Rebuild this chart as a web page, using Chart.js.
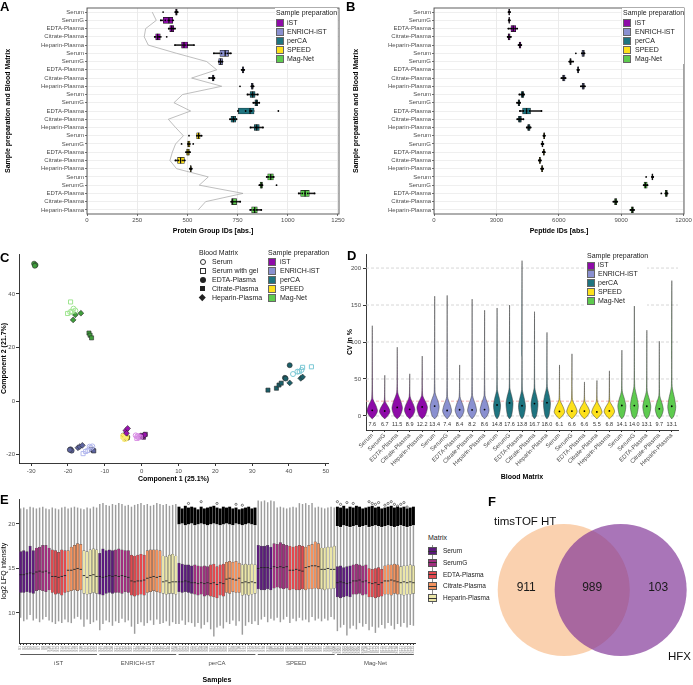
<!DOCTYPE html>
<html>
<head>
<meta charset="utf-8">
<title>Plasma sample preparation benchmark</title>
<script src="https://cdn.jsdelivr.net/npm/chart.js@4.4.1/dist/chart.umd.min.js"></script>
<style>
  body { margin: 0; background: #fff; }
  #fig { position: relative; width: 693px; height: 685px; overflow: hidden; background: #fff;
         font-family: "Liberation Sans", Arial, Helvetica, sans-serif; color: #1a1a1a; }
  #fig canvas { position: absolute; }
  .tag { position: absolute; font-size: 13px; font-weight: bold; line-height: 13px; color: #000; }
</style>
</head>
<body>
<div id="fig">
  <canvas id="chartA" width="352" height="240" style="left:0px;top:0px"></canvas>
  <canvas id="chartB" width="348" height="240" style="left:345px;top:0px"></canvas>
  <canvas id="chartC" width="345" height="245" style="left:0px;top:245px"></canvas>
  <canvas id="chartD" width="348" height="240" style="left:345px;top:245px"></canvas>
  <canvas id="chartE" width="425" height="195" style="left:0px;top:490px"></canvas>
  <canvas id="chartF" width="213" height="185" style="left:480px;top:500px"></canvas>
  <div class="tag" style="left:0px;top:0px">A</div>
  <div class="tag" style="left:346px;top:0px">B</div>
  <div class="tag" style="left:0px;top:251px">C</div>
  <div class="tag" style="left:347px;top:249px">D</div>
  <div class="tag" style="left:0px;top:493px">E</div>
  <div class="tag" style="left:488px;top:495px">F</div>
</div>
<script>
// ---- categories ----
const preps = ['iST', 'ENRICH-iST', 'perCA', 'SPEED', 'Mag-Net'];
const prepColors = ['#8e0ba8', '#8a90d0', '#1e7480', '#fde11c', '#5ecb4f'];
const matrices = ['Serum', 'SerumG', 'EDTA-Plasma', 'Citrate-Plasma', 'Heparin-Plasma'];
const rowLabels = preps.flatMap(() => matrices);

// ---- A: protein group IDs (rows: prep x matrix) ----
const pgTicks = [0, 250, 500, 750, 1000, 1250];
const pgLow  = [438, 365, 405, 335, 438, 630, 654, 770, 608, 818, 797, 828, 752, 712, 812, 546, 501, 493, 440, 512, 895, 858, 1052, 718, 812];
const pgQ1   = [441, 380, 412, 342, 471, 662, 656, 773, 624, 818, 812, 836, 754, 717, 833, 546, 501, 496, 451, 514, 900, 862, 1064, 720, 820];
const pgMed  = [446, 408, 422, 352, 483, 688, 665, 777, 629, 823, 825, 843, 812, 729, 845, 555, 507, 503, 466, 517, 915, 868, 1086, 725, 835];
const pgQ3   = [449, 427, 432, 365, 501, 705, 675, 781, 633, 828, 837, 850, 832, 741, 858, 563, 513, 510, 485, 519, 928, 874, 1107, 745, 848];
const pgHigh = [452, 432, 440, 370, 533, 718, 675, 783, 635, 830, 852, 858, 832, 745, 878, 571, 512, 513, 487, 522, 930, 874, 1135, 765, 870];
const pgPoints = [
  [379, 440, 444, 447, 452], [368, 390, 405, 412, 425], [407, 418, 424, 430, 438], [338, 350, 358, 362, 397], [438, 478, 488, 500, 533],
  [632, 670, 690, 700, 716], [656, 660, 668, 672, 675], [770, 775, 778, 780, 783], [608, 625, 628, 632, 635], [762, 818, 822, 826, 830],
  [800, 818, 825, 832, 850], [828, 838, 843, 848, 858], [752, 790, 812, 820, 953], [712, 722, 729, 735, 745], [815, 838, 845, 852, 876],
  [508, 548, 555, 560, 571], [471, 503, 507, 512, 529], [493, 500, 505, 510, 513], [440, 455, 466, 478, 487], [512, 515, 517, 519, 522],
  [895, 905, 915, 922, 930], [858, 864, 868, 874, 944], [1055, 1072, 1086, 1100, 1133], [718, 724, 732, 742, 763], [813, 828, 835, 845, 868]
];
const pgLine = [325, 345, 292, 285, 305, 446, 596, 646, 521, 671, 476, 433, 516, 405, 441, 480, 441, 425, 413, 446, 604, 559, 777, 591, 554];

// ---- B: peptide IDs ----
const pepTicks = [0, 3000, 6000, 9000, 12000];
const pepLow  = [3580, 3590, 3570, 3540, 4060, 7100, 6500, 6890, 6120, 7060, 4100, 3990, 4130, 4000, 4460, 5260, 5170, 5230, 5040, 5150, 10480, 10080, 11120, 8620, 9440];
const pepQ1   = [3600, 3605, 3700, 3560, 4090, 7110, 6530, 6900, 6180, 7120, 4190, 4040, 4260, 4060, 4500, 5270, 5190, 5250, 5060, 5170, 10480, 10100, 11120, 8680, 9480];
const pepMed  = [3615, 3615, 3810, 3600, 4130, 7170, 6560, 6930, 6240, 7170, 4260, 4080, 4450, 4130, 4560, 5300, 5215, 5280, 5090, 5200, 10500, 10170, 11170, 8740, 9540];
const pepQ3   = [3630, 3625, 3930, 3660, 4180, 7230, 6600, 6960, 6300, 7230, 4320, 4120, 4640, 4200, 4620, 5320, 5240, 5310, 5120, 5230, 10530, 10250, 11220, 8790, 9590];
const pepHigh = [3660, 3650, 4000, 3700, 4200, 7240, 6690, 6970, 6330, 7260, 4330, 4140, 5170, 4300, 4650, 5330, 5260, 5330, 5140, 5250, 10540, 10270, 11230, 8810, 9620];
const pepPoints = [
  [3580, 3600, 3615, 3630, 3660], [3590, 3605, 3615, 3625, 3650], [3570, 3720, 3810, 3900, 4000], [3540, 3570, 3600, 3650, 3700], [4060, 4100, 4130, 4170, 4200],
  [6820, 7110, 7160, 7200, 7240], [6500, 6540, 6560, 6600, 6690], [6890, 6910, 6930, 6950, 6970], [6120, 6200, 6240, 6280, 6330], [7060, 7130, 7170, 7210, 7260],
  [4100, 4200, 4260, 4300, 4330], [3990, 4050, 4080, 4110, 4140], [4130, 4300, 4450, 4600, 5170], [4000, 4080, 4130, 4180, 4300], [4460, 4520, 4560, 4600, 4650],
  [5260, 5280, 5300, 5310, 5330], [5170, 5200, 5215, 5230, 5260], [5230, 5260, 5280, 5300, 5330], [5040, 5070, 5090, 5110, 5140], [5150, 5180, 5200, 5220, 5250],
  [10200, 10480, 10500, 10520, 10540], [10080, 10130, 10170, 10230, 10270], [10930, 11120, 11160, 11190, 11230], [8620, 8700, 8740, 8770, 8810], [9440, 9500, 9540, 9570, 9620]
];

// ---- C: PCA ----
const pcaMatrices = ['Serum', 'Serum with gel', 'EDTA-Plasma', 'Citrate-Plasma', 'Heparin-Plasma'];
const pcaXTicks = [-30, -20, -10, 0, 10, 20, 30, 40, 50];
const pcaYTicks = [-20, 0, 20, 40];
const pcaPrep = [
  'iST', 'iST', 'iST', 'iST', 'iST', 'iST', 'iST', 'iST', 'iST', 'iST', 'iST', 'iST', 'iST', 'iST', 'iST',
  'SPEED', 'SPEED', 'SPEED', 'SPEED', 'SPEED', 'SPEED', 'SPEED', 'SPEED', 'SPEED', 'SPEED', 'SPEED', 'SPEED', 'SPEED', 'SPEED', 'SPEED',
  'ENRICH-iST', 'ENRICH-iST', 'ENRICH-iST', 'ENRICH-iST', 'ENRICH-iST', 'ENRICH-iST', 'ENRICH-iST', 'ENRICH-iST', 'ENRICH-iST', 'ENRICH-iST', 'ENRICH-iST', 'ENRICH-iST', 'ENRICH-iST', 'ENRICH-iST', 'ENRICH-iST',
  'perCA', 'perCA', 'perCA', 'perCA', 'perCA', 'perCA', 'perCA', 'perCA', 'perCA', 'perCA', 'perCA', 'perCA', 'perCA', 'perCA', 'perCA', 'perCA',
  'Mag-Net', 'Mag-Net', 'Mag-Net', 'Mag-Net', 'Mag-Net', 'Mag-Net', 'Mag-Net', 'Mag-Net', 'Mag-Net', 'Mag-Net', 'Mag-Net', 'Mag-Net', 'Mag-Net', 'Mag-Net', 'Mag-Net'
];
const pcaMatrix = [
  0, 0, 0, 1, 1, 1, 2, 2, 2, 3, 3, 3, 4, 4, 4,
  0, 0, 0, 1, 1, 1, 2, 2, 2, 3, 3, 3, 4, 4, 4,
  0, 0, 0, 1, 1, 1, 2, 2, 2, 3, 3, 3, 4, 4, 4,
  0, 0, 0, 1, 1, 1, 2, 2, 2, 3, 3, 3, 3, 4, 4, 4,
  0, 0, 0, 1, 1, 1, 2, 2, 2, 3, 3, 3, 4, 4, 4
];
const pcaX = [
  -1.2, -0.8, -1.6, -1.0, -0.4, -1.3, 0.2, 0.8, -0.2, 0.5, 1.0, 0.0, -4.3, -3.8, -4.1,
  -4.8, -4.4, -5.0, -4.2, -5.1, -4.6, -4.6, -4.0, -4.9, -4.3, -4.8, -3.9, -4.5, -3.9, -4.7,
  -14.1, -13.4, -13.8, -15.9, -15.2, -14.6, -19.3, -19.0, -19.5, -13.2, -13.6, -13.0, -17.3, -16.8, -16.1,
  41.1, 42.3, 43.4, 43.7, 46.1, 42.8, 40.2, 38.9, 39.1, 34.3, 36.6, 37.3, 37.9, 40.2, 43.2, 43.7,
  -18.5, -19.4, -18.0, -19.3, -20.1, -18.9, -29.2, -28.8, -29.0, -14.3, -14.0, -13.6, -18.0, -16.5, -18.6
];
const pcaY = [
  -13.2, -13.6, -12.8, -13.0, -13.5, -13.9, -13.2, -12.6, -12.9, -13.5, -12.4, -13.1, -11.0, -10.2, -12.0,
  -13.6, -14.0, -13.0, -13.0, -13.3, -14.2, -13.5, -13.8, -12.8, -13.2, -12.9, -13.6, -12.6, -13.4, -14.0,
  -17.0, -16.9, -17.4, -19.6, -18.8, -18.4, -18.0, -18.5, -18.2, -18.3, -18.0, -18.6, -17.4, -17.0, -16.5,
  10.1, 11.0, 11.6, 12.6, 12.8, 11.0, 13.4, 8.7, 8.4, 4.1, 4.8, 6.0, 6.7, 6.8, 8.5, 9.0,
  34.5, 33.2, 33.8, 37.0, 32.7, 33.5, 51.3, 50.8, 50.5, 25.4, 24.6, 23.6, 32.2, 32.8, 30.3
];

// ---- D: CV violins (one per prep x matrix) ----
const cvTicks = [0, 50, 100, 150, 200];
const cvThreshold = 20;
const cvMedian = [7.6, 6.7, 11.5, 8.9, 12.2, 13.4, 7.4, 8.4, 8.2, 8.6, 14.8, 17.6, 13.8, 16.7, 18.0, 6.1, 6.6, 6.6, 5.5, 6.8, 14.1, 14.0, 13.1, 9.7, 13.1];
const cvMax    = [122, 55, 93, 57, 81, 162, 163, 69, 158, 143, 146, 150, 210, 141, 113, 69, 84, 46, 48, 61, 89, 173, 116, 101, 183];
const cvNeck   = [24, 20, 32, 26, 28, 32, 26, 26, 28, 28, 36, 38, 36, 38, 40, 22, 22, 20, 20, 20, 34, 40, 34, 28, 40];

// ---- E: log2 LFQ intensity per sample (5 preps x 5 matrices x 5 replicates) ----
const lfqTicks = [10, 15, 20];
const eMatColors = ['#5c1a7d', '#a02f7e', '#e3494f', '#f3935f', '#ebe6a9'];
const eQ3 = [
  16.9, 17.0, 16.9, 17.5, 17.0, 17.3, 17.4, 17.6, 17.6, 17.3, 17.1, 17.0, 16.8, 17.1, 17.0, 17.0, 17.4, 17.6, 17.8, 17.7, 17.0, 16.9, 17.1, 17.2, 17.1,
  16.7, 17.2, 17.0, 17.1, 17.0, 17.1, 17.2, 17.1, 17.0, 17.0, 16.5, 16.4, 16.5, 16.6, 16.5, 17.0, 17.1, 17.1, 17.1, 17.0, 16.4, 16.3, 16.5, 16.6, 16.4,
  15.6, 15.5, 15.4, 15.4, 15.3, 15.4, 15.3, 15.2, 15.3, 15.2, 15.4, 15.5, 15.2, 15.4, 15.5, 15.7, 15.8, 15.7, 15.8, 15.6, 15.4, 15.5, 15.4, 15.5, 15.4,
  17.6, 17.5, 17.5, 17.6, 17.4, 17.8, 17.7, 17.9, 17.7, 17.6, 17.5, 17.4, 17.5, 17.6, 17.5, 17.4, 17.6, 17.7, 18.0, 17.8, 17.3, 17.3, 17.4, 17.4, 17.5,
  15.2, 15.3, 15.1, 15.2, 15.3, 15.4, 15.5, 15.4, 15.3, 15.4, 15.0, 14.9, 15.0, 15.1, 14.9, 15.3, 15.4, 15.4, 15.5, 15.4, 15.2, 15.3, 15.3, 15.4, 15.3
];
const eQ1 = [
  12.3, 12.3, 12.4, 12.3, 12.2, 12.5, 12.6, 12.5, 12.4, 12.6, 12.3, 12.1, 12.2, 12.0, 12.3, 12.4, 12.5, 12.6, 12.5, 12.6, 12.2, 12.1, 12.2, 12.3, 12.2,
  12.1, 12.0, 12.2, 12.3, 12.2, 12.3, 12.3, 12.2, 12.4, 12.3, 12.0, 11.9, 12.0, 12.1, 12.0, 12.3, 12.4, 12.5, 12.4, 12.3, 12.2, 12.1, 12.2, 12.2, 12.1,
  12.4, 12.3, 12.4, 12.3, 12.2, 12.1, 12.0, 12.1, 11.9, 12.0, 11.9, 11.8, 11.7, 12.0, 11.9, 12.3, 12.2, 12.4, 12.3, 12.3, 12.0, 12.1, 12.0, 12.1, 12.2,
  12.7, 12.6, 12.6, 12.7, 12.6, 12.8, 12.9, 12.8, 12.7, 12.8, 12.6, 12.7, 12.6, 12.6, 12.7, 12.6, 12.7, 12.7, 12.8, 12.7, 12.7, 12.6, 12.7, 12.7, 12.8,
  11.8, 11.7, 11.8, 11.9, 11.8, 12.1, 12.1, 12.2, 12.0, 12.1, 11.8, 11.8, 11.7, 11.8, 11.9, 12.1, 12.1, 12.0, 12.2, 12.1, 12.1, 12.0, 12.1, 12.1, 12.2
];
const eMed = [
  14.3, 14.3, 14.4, 14.5, 14.4, 14.6, 14.7, 14.6, 14.7, 14.5, 14.1, 14.1, 14.0, 14.1, 14.2, 14.8, 14.8, 14.9, 15.0, 14.9, 14.2, 14.0, 14.2, 14.3, 14.1,
  14.1, 14.0, 14.1, 14.2, 14.1, 14.2, 14.1, 14.2, 14.1, 14.0, 13.6, 13.5, 13.6, 13.6, 13.7, 13.9, 14.0, 14.1, 14.0, 14.1, 13.5, 13.6, 13.4, 13.5, 13.5,
  13.5, 13.5, 13.6, 13.5, 13.4, 13.4, 13.3, 13.4, 13.3, 13.4, 13.3, 13.4, 13.2, 13.4, 13.3, 13.8, 13.9, 13.8, 13.7, 13.9, 13.4, 13.5, 13.4, 13.5, 13.4,
  15.0, 15.1, 15.1, 15.1, 15.0, 15.2, 15.1, 15.2, 15.1, 15.2, 14.8, 14.8, 14.9, 14.8, 14.7, 15.1, 15.2, 15.3, 15.3, 15.2, 14.9, 14.9, 15.0, 14.9, 14.9,
  13.4, 13.5, 13.4, 13.3, 13.4, 13.6, 13.6, 13.7, 13.5, 13.6, 13.4, 13.3, 13.4, 13.2, 13.4, 13.6, 13.6, 13.7, 13.6, 13.5, 13.4, 13.5, 13.4, 13.5, 13.4
];
const eLo = [
  9.5, 9.1, 9.3, 9.8, 9.2, 9.4, 9.0, 9.3, 9.6, 9.2, 9.0, 8.8, 9.1, 8.9, 9.3, 9.0, 8.9, 9.4, 9.6, 9.3, 8.5, 9.3, 8.8, 9.0, 9.2,
  8.1, 8.8, 9.2, 9.0, 8.6, 9.1, 8.9, 9.4, 9.0, 9.2, 8.5, 7.7, 8.8, 9.0, 8.6, 8.9, 9.2, 8.7, 9.3, 8.8, 8.9, 9.1, 8.6, 9.0, 8.8,
  8.8, 9.2, 8.7, 9.0, 8.9, 8.5, 8.9, 8.3, 8.7, 9.0, 8.2, 7.4, 8.4, 8.6, 8.3, 9.0, 8.8, 9.2, 8.6, 9.1, 7.6, 8.6, 9.0, 8.8, 9.1,
  8.7, 9.3, 9.6, 9.0, 9.4, 9.2, 9.5, 9.0, 9.3, 9.6, 8.9, 9.4, 9.1, 9.5, 9.2, 9.3, 9.0, 9.6, 9.2, 9.4, 9.1, 9.4, 9.2, 9.6, 9.3,
  8.0, 8.4, 8.7, 7.5, 8.3, 8.6, 8.2, 8.9, 8.5, 8.8, 8.1, 8.5, 7.8, 8.4, 8.7, 8.3, 8.9, 8.6, 8.2, 8.8, 8.5, 8.9, 8.4, 8.7, 8.6
];
const eHi = [
  21.7, 21.8, 21.6, 21.9, 21.8, 21.7, 21.8, 21.9, 21.7, 21.6, 21.8, 21.7, 21.6, 21.8, 21.9, 21.7, 21.8, 21.9, 21.8, 21.7, 21.6, 21.8, 21.7, 21.9, 21.8,
  22.2, 22.3, 22.1, 22.0, 22.2, 22.1, 22.3, 22.2, 22.0, 22.1, 21.9, 22.1, 22.2, 22.3, 22.1, 22.2, 22.0, 22.1, 22.3, 22.2, 22.1, 22.2, 22.0, 22.1, 22.2,
  19.9, 20.0, 19.8, 19.9, 20.0, 19.8, 19.9, 20.0, 19.9, 19.8, 19.9, 20.0, 19.9, 19.8, 19.9, 20.0, 19.9, 19.8, 20.0, 19.9, 19.8, 19.9, 20.0, 19.9, 19.8,
  22.6, 22.5, 22.6, 22.4, 22.6, 22.5, 21.8, 21.9, 21.8, 21.7, 21.8, 21.9, 21.8, 22.3, 22.2, 22.3, 22.1, 22.3, 21.8, 21.9, 21.8, 21.7, 21.8, 21.9, 21.8,
  19.7, 19.6, 19.8, 19.7, 19.6, 19.7, 19.8, 19.6, 19.7, 19.8, 19.6, 19.7, 19.8, 19.7, 19.6, 19.7, 19.8, 19.7, 19.6, 19.7, 19.8, 19.7, 19.6, 19.7, 19.8
];
// dense outlier stacks (perCA, Mag-Net only)
const eOutLo = [
  ...Array(50).fill(null),
  20.0, 20.1, 19.9, 20.0, 20.1, 19.9, 20.0, 20.1, 20.0, 19.9, 20.0, 20.1, 20.0, 19.9, 20.0, 20.1, 20.0, 19.9, 20.1, 20.0, 19.9, 20.0, 20.1, 20.0, 19.9,
  ...Array(25).fill(null),
  19.8, 19.7, 19.9, 19.8, 19.7, 19.8, 19.9, 19.7, 19.8, 19.9, 19.7, 19.8, 19.9, 19.8, 19.7, 19.8, 19.9, 19.8, 19.7, 19.8, 19.9, 19.8, 19.7, 19.8, 19.9
];
const eOutHi = [
  ...Array(50).fill(null),
  21.9, 21.7, 22.0, 21.8, 21.9, 21.8, 21.6, 21.9, 21.7, 21.8, 21.9, 22.0, 21.8, 21.7, 21.9, 21.8, 21.9, 21.7, 21.8, 21.6, 21.7, 21.8, 21.9, 21.7, 21.8,
  ...Array(25).fill(null),
  21.9, 21.8, 22.0, 21.7, 21.9, 21.8, 22.0, 21.9, 21.7, 21.8, 21.9, 22.0, 21.8, 21.9, 21.7, 21.8, 21.9, 22.0, 21.8, 21.9, 21.8, 21.9, 21.7, 21.8, 21.9
];
const eCircleIdx = [53, 57, 62, 68, 70, 100, 101, 103, 105, 110, 111, 112, 113, 115, 116, 117, 118, 119, 120, 121, 122];
const eCircleVal = [22.3, 22.5, 22.3, 22.2, 22.1, 22.5, 22.2, 22.4, 22.3, 22.5, 22.3, 22.2, 22.4, 22.1, 22.3, 22.5, 22.2, 22.0, 22.2, 22.4, 21.9];
const eSamples = eQ3.map((_, i) => 'S' + (i + 1));

// ---- F: Venn ----
const vennSets = ['timsTOF HT', 'HFX'];
const vennCounts = [911, 989, 103];

// ---------- setup ----------
Chart.defaults.font.family = '"Liberation Sans", Arial, Helvetica, sans-serif';
Chart.defaults.font.size = 6;
Chart.defaults.color = '#4d4d4d';
Chart.defaults.animation = false;
Chart.defaults.responsive = false;
Chart.defaults.events = [];
Chart.defaults.layout.autoPadding = false;
Chart.defaults.plugins.legend.display = false;
Chart.defaults.plugins.tooltip.enabled = false;

Chart.register({
  id: 'frame',
  afterDraw(chart, args, o) {
    if (!o || !o.color) return;
    const { ctx, chartArea: a } = chart;
    ctx.save();
    ctx.strokeStyle = o.color;
    ctx.lineWidth = 0.9;
    ctx.strokeRect(a.left, a.top, a.width, a.height);
    ctx.restore();
  }
});

const fixedTicks = vals => scale => { scale.ticks = vals.map(v => ({ value: v })); };
const titleFont = { size: 7, weight: 'bold' };
// bars overlap (not grouped); width = min(maxBarThickness, slot)
const overlapBar = { grouped: false, categoryPercentage: 1, barPercentage: 1 };

// horizontal boxplots, panels A and B
function rowBoxChart(id, s, opt) {
  const rowColors = rowLabels.map((_, i) => prepColors[Math.floor(i / 5)]);
  const datasets = [];
  if (s.trend) {
    datasets.push({ type: 'scatter', showLine: true, data: s.trend.map((v, i) => ({ x: v, y: i })),
      borderColor: '#a3a3a3', borderWidth: 0.7, pointRadius: 0, order: 5 });
  }
  datasets.push(Object.assign({ type: 'bar', data: s.low.map((v, i) => ({ x: [v, s.high[i]], y: i })),
    backgroundColor: '#1a1a1a', maxBarThickness: 0.9, order: 4 }, overlapBar));
  datasets.push(Object.assign({ type: 'bar', data: s.q1.map((v, i) => ({ x: [v, s.q3[i]], y: i })),
    backgroundColor: rowColors, borderColor: '#1a1a1a', borderWidth: 0.6, borderSkipped: false,
    maxBarThickness: 6, order: 3 }, overlapBar));
  datasets.push({ type: 'scatter', data: s.med.map((v, i) => ({ x: v, y: i })),
    pointStyle: 'line', rotation: 90, pointRadius: 3, borderColor: '#111', borderWidth: 1.2, order: 2 });
  datasets.push({ type: 'scatter', data: s.points.flatMap((r, i) => r.map(v => ({ x: v, y: i }))),
    pointRadius: 0.9, backgroundColor: '#000', borderWidth: 0, order: 1 });

  return new Chart(document.getElementById(id), {
    type: 'bar',
    data: { datasets },
    options: {
      indexAxis: 'y',
      layout: { padding: { left: 0, top: 8, right: opt.padRight, bottom: 0 } },
      plugins: { frame: { color: '#4d4d4d' } },
      scales: {
        x: {
          type: 'linear', min: 0, max: opt.max, offset: false,
          afterBuildTicks: fixedTicks(opt.ticks),
          afterFit: sc => { sc.height = 26; },
          ticks: { callback: v => String(v), padding: 1, maxRotation: 0 },
          grid: { color: '#e6e6e6', lineWidth: 0.8, tickLength: 2, tickColor: '#4d4d4d', offset: false },
          border: { display: false },
          title: { display: true, text: opt.title, color: '#000', font: titleFont, padding: { top: 0, bottom: 4.8 } }
        },
        y: {
          type: 'linear', min: -0.5, max: 24.5, reverse: true, offset: false,
          afterBuildTicks: fixedTicks(rowLabels.map((_, i) => i)),
          afterFit: sc => { sc.width = opt.yWidth; },
          ticks: { callback: v => rowLabels[v], padding: 1, autoSkip: false },
          grid: { color: '#ebebeb', lineWidth: 0.8, tickLength: 2, tickColor: '#4d4d4d', offset: false },
          border: { display: false },
          title: { display: true, text: 'Sample preparation and Blood Matrix', color: '#000', font: titleFont,
                   padding: { top: opt.yTitlePad, bottom: 0 } }
        }
      }
    }
  });
}

rowBoxChart('chartA', { low: pgLow, q1: pgQ1, med: pgMed, q3: pgQ3, high: pgHigh, points: pgPoints, trend: pgLine },
  { max: 1255, ticks: pgTicks, title: 'Protein Group IDs [abs.]', padRight: 13, yWidth: 87, yTitlePad: 3.8 });
rowBoxChart('chartB', { low: pepLow, q1: pepQ1, med: pepMed, q3: pepQ3, high: pepHigh, points: pepPoints },
  { max: 12020, ticks: pepTicks, title: 'Peptide IDs [abs.]', padRight: 9, yWidth: 89, yTitlePad: 6.5 });

// ---------- C: PCA ----------
const pcaLight = ['#d88de4', '#b4b9ee', '#7cc8d5', '#fff07c', '#9fe590'];
const pcaDark = ['#9a12b0', '#5d649f', '#1b5f69', '#f2d400', '#3f9e3b'];
const pcaShapes = ['circle', 'rect', 'circle', 'rect', 'rectRot'];
const pcaSets = [];
preps.forEach((p, g) => pcaMatrices.forEach((m, k) => {
  const data = [];
  pcaX.forEach((x, i) => { if (pcaPrep[i] === p && pcaMatrix[i] === k) data.push({ x, y: pcaY[i] }); });
  const open = k < 2;
  pcaSets.push({
    data, pointStyle: pcaShapes[k], pointRadius: pcaShapes[k] === 'circle' ? 2.5 : 2.9,
    backgroundColor: open ? 'rgba(255,255,255,0)' : pcaDark[g],
    borderColor: open ? pcaLight[g] : '#2b2b2b', borderWidth: open ? 1 : 0.6
  });
}));

const axisCommon = {
  grid: { drawOnChartArea: false, tickLength: 3, color: '#333' },
  border: { display: true, color: '#222', width: 0.9 }
};

new Chart(document.getElementById('chartC'), {
  type: 'scatter',
  data: { datasets: pcaSets },
  options: {
    layout: { padding: { left: 0, top: 9, right: 17, bottom: 0 } },
    scales: {
      x: Object.assign({
        min: -33.3, max: 50.6,
        afterBuildTicks: fixedTicks(pcaXTicks), afterFit: sc => { sc.height = 27; },
        ticks: { callback: v => String(v), padding: 2, maxRotation: 0 },
        title: { display: true, text: 'Component 1 (25.1%)', color: '#000', font: titleFont, padding: { top: 0, bottom: 6.8 } }
      }, axisCommon),
      y: Object.assign({
        min: -23.1, max: 54.9,
        afterBuildTicks: fixedTicks(pcaYTicks), afterFit: sc => { sc.width = 19; },
        ticks: { callback: v => String(v), padding: 1 },
        title: { display: true, text: 'Component 2 (21.7%)', color: '#000', font: titleFont, padding: { top: 0.3, bottom: 0 } }
      }, axisCommon)
    }
  }
});

// ---------- D: violins ----------
const violinWidth = [0.42, 0.36, 0.28, 0.42, 0.32];
function violinOutline(i) {
  const m = cvMedian[i], n = cvNeck[i], top = cvMax[i], w = violinWidth[Math.floor(i / 5)];
  const prof = [[-4, 0], [0, 0.55], [m * 0.6, 0.92], [m, 1], [m + (n - m) * 0.4, 0.7],
                [m + (n - m) * 0.75, 0.3], [n, 0.1], [n + (top - n) * 0.25, 0.035], [top, 0.012]];
  const right = prof.map(([y, f]) => ({ x: i + w * f, y }));
  const left = prof.slice().reverse().map(([y, f]) => ({ x: i - w * f, y }));
  return right.concat(left.slice(1));
}
const violinSets = cvMedian.map((m, i) => ({
  type: 'scatter', showLine: true, fill: 'shape', tension: 0.25, data: violinOutline(i),
  backgroundColor: prepColors[Math.floor(i / 5)], borderColor: '#3d3d3d', borderWidth: 0.5, pointRadius: 0, order: 2
}));
violinSets.push({ type: 'scatter', data: cvMedian.map((m, i) => ({ x: i, y: m })),
  pointRadius: 0.9, backgroundColor: '#000', borderWidth: 0, order: 1 });

const cvLabelLevel = -11;
const cvDecor = {
  id: 'cvDecor',
  beforeDatasetsDraw(chart) {
    const { ctx, chartArea: a, scales: { y } } = chart;
    ctx.save();
    ctx.lineWidth = 0.8;
    ctx.setLineDash([3, 2]);
    cvTicks.forEach(v => {
      const py = y.getPixelForValue(v);
      ctx.strokeStyle = '#cccccc';
      ctx.beginPath(); ctx.moveTo(a.left, py); ctx.lineTo(a.right, py); ctx.stroke();
    });
    const pr = y.getPixelForValue(cvThreshold);
    ctx.strokeStyle = '#f29e9e';
    ctx.beginPath(); ctx.moveTo(a.left, pr); ctx.lineTo(a.right, pr); ctx.stroke();
    ctx.restore();
  },
  afterDatasetsDraw(chart) {
    const { ctx, scales: { x, y } } = chart;
    ctx.save();
    ctx.fillStyle = '#333';
    ctx.font = '5.5px "Liberation Sans", Arial, sans-serif';
    ctx.textAlign = 'center';
    ctx.textBaseline = 'middle';
    cvMedian.forEach((m, i) => ctx.fillText(m.toFixed(1), x.getPixelForValue(i), y.getPixelForValue(cvLabelLevel)));
    ctx.restore();
  }
};

new Chart(document.getElementById('chartD'), {
  type: 'scatter',
  data: { datasets: violinSets },
  options: {
    layout: { padding: { left: 0, top: 9, right: 15, bottom: 0 } },
    scales: {
      x: {
        min: -0.5, max: 24.5,
        afterBuildTicks: fixedTicks(rowLabels.map((_, i) => i)), afterFit: sc => { sc.height = 55; },
        ticks: { callback: v => rowLabels[v], autoSkip: false, minRotation: 45, maxRotation: 45, padding: 0 },
        grid: { drawOnChartArea: false, tickLength: 2, color: '#333' },
        border: { display: true, color: '#222', width: 0.9 },
        title: { display: true, text: 'Blood Matrix', color: '#000', font: titleFont, padding: { top: 0, bottom: 3.8 } }
      },
      y: {
        min: -19, max: 219,
        afterBuildTicks: fixedTicks(cvTicks), afterFit: sc => { sc.width = 21; },
        ticks: { callback: v => String(v), padding: 2 },
        grid: { drawOnChartArea: false, tickLength: 3, color: '#333' },
        border: { display: true, color: '#222', width: 0.9 },
        title: { display: true, text: 'CV in %', color: '#000', font: titleFont, padding: { top: 0.8, bottom: 0 } }
      }
    }
  },
  plugins: [cvDecor]
});

// ---------- E: intensity boxplots ----------
const eColors = eQ3.map((_, i) => eMatColors[Math.floor((i % 25) / 5)]);
const eOutData = [];
eOutLo.forEach((v, i) => { if (v !== null) eOutData.push({ x: i, y: [v, eOutHi[i]] }); });

const groupBrackets = {
  id: 'groupBrackets',
  afterDraw(chart) {
    const { ctx, chartArea, scales: { x } } = chart;
    const y = chartArea.bottom + 11.5;
    ctx.save();
    ctx.strokeStyle = '#333';
    ctx.lineWidth = 0.8;
    ctx.fillStyle = '#4d4d4d';
    ctx.font = '6px "Liberation Sans", Arial, sans-serif';
    ctx.textAlign = 'center';
    ctx.textBaseline = 'middle';
    preps.forEach((p, g) => {
      const x1 = x.getPixelForValue(g * 25 - 0.5) + 1.2;
      const x2 = x.getPixelForValue(g * 25 + 24.5) - 1.2;
      ctx.beginPath(); ctx.moveTo(x1, y); ctx.lineTo(x2, y); ctx.stroke();
      ctx.fillText(p, (x1 + x2) / 2, y + 9);
    });
    ctx.restore();
  }
};

new Chart(document.getElementById('chartE'), {
  type: 'bar',
  data: {
    datasets: [
      Object.assign({ type: 'bar', data: eLo.map((v, i) => ({ x: i, y: [v, eHi[i]] })), backgroundColor: '#9d9d9d',
        maxBarThickness: 0.8, order: 5 }, overlapBar),
      Object.assign({ type: 'bar', data: eOutData, backgroundColor: '#000', maxBarThickness: 2.3, order: 4 }, overlapBar),
      Object.assign({ type: 'bar', data: eQ1.map((v, i) => ({ x: i, y: [v, eQ3[i]] })), backgroundColor: eColors,
        borderColor: '#5a5a5a', borderWidth: 0.45, borderSkipped: false, maxBarThickness: 2.5, order: 3 }, overlapBar),
      { type: 'scatter', data: eMed.map((v, i) => ({ x: i, y: v })), pointStyle: 'line', pointRadius: 1.2,
        borderColor: '#222', borderWidth: 0.9, order: 2 },
      { type: 'scatter', data: eCircleIdx.map((x, k) => ({ x, y: eCircleVal[k] })), pointRadius: 1.1,
        backgroundColor: 'rgba(255,255,255,0)', borderColor: '#000', borderWidth: 0.5, order: 1 }
    ]
  },
  options: {
    layout: { padding: { left: 0, top: 9, right: 10, bottom: 0 } },
    scales: {
      x: {
        type: 'linear', min: -0.5, max: 124.5, offset: false,
        afterBuildTicks: fixedTicks(eSamples.map((_, i) => i)), afterFit: sc => { sc.height = 42; },
        ticks: { callback: v => eSamples[v], autoSkip: false, minRotation: 90, maxRotation: 90, padding: 1,
                 font: { size: 3.2 }, color: '#777' },
        grid: { drawOnChartArea: false, tickLength: 2, color: '#333', offset: false },
        border: { display: true, color: '#222', width: 0.9 },
        title: { display: true, text: 'Samples', color: '#000', font: titleFont, padding: { top: 0, bottom: 0.8 } }
      },
      y: {
        type: 'linear', min: 6.63, max: 22.8,
        afterBuildTicks: fixedTicks(lfqTicks), afterFit: sc => { sc.width = 19; },
        ticks: { callback: v => String(v), padding: 1 },
        grid: { drawOnChartArea: false, tickLength: 3, color: '#333' },
        border: { display: true, color: '#222', width: 0.9 },
        title: { display: true, text: 'log2 LFQ intensity', color: '#000', font: { size: 7 }, padding: { top: 0, bottom: 0 } }
      }
    }
  },
  plugins: [groupBrackets]
});

// ---------- F: Venn ----------
const vennRadius = 66;
const vennLabels = {
  id: 'vennLabels',
  afterDatasetsDraw(chart) {
    const { ctx, scales: { x, y } } = chart;
    const ppu = x.getPixelForValue(1) - x.getPixelForValue(0);
    const r = vennRadius / ppu;
    ctx.save();
    ctx.fillStyle = '#1a1a1a';
    ctx.font = '12px "Liberation Sans", Arial, sans-serif';
    ctx.textAlign = 'center';
    ctx.textBaseline = 'middle';
    [-r, 0, r].forEach((px, k) => ctx.fillText(String(vennCounts[k]), x.getPixelForValue(px), y.getPixelForValue(0) - 2));
    ctx.restore();
  }
};
new Chart(document.getElementById('chartF'), {
  type: 'bubble',
  data: {
    datasets: [
      { label: vennSets[0], data: [{ x: -0.5, y: 0, r: vennRadius }], backgroundColor: 'rgba(247,176,118,0.58)', borderWidth: 0, order: 2 },
      { label: vennSets[1], data: [{ x: 0.5, y: 0, r: vennRadius }], backgroundColor: 'rgba(128,52,150,0.68)', borderWidth: 0, order: 1 }
    ]
  },
  options: {
    layout: { padding: 0 },
    scales: {
      x: { display: false, min: -1.97, max: 1.77 },
      y: { display: false, min: -1.67, max: 1.58 }
    }
  },
  plugins: [vennLabels]
});

// ---------- HTML legends and labels ----------
const fig = document.getElementById('fig');
function put(css, text) {
  const el = document.createElement('div');
  el.style.cssText = 'position:absolute;' + css;
  if (text !== undefined) el.textContent = text;
  fig.appendChild(el);
  return el;
}
function label(text, x, yc, size, extra) {
  return put(`left:${x}px;top:${yc - size * 0.6}px;font-size:${size}px;line-height:${size * 1.2}px;white-space:nowrap;color:#1a1a1a;${extra || ''}`, text);
}
function prepLegend(x, yTitle, first, step, textDx, bgW) {
  put(`left:${x - 1}px;top:${yTitle - 5}px;width:${bgW}px;height:${first + step * 4 + 10}px;background:#fff;`);
  label('Sample preparation', x, yTitle, 7);
  preps.forEach((p, k) => {
    const yc = yTitle + first + step * k;
    put(`left:${x}px;top:${yc - 4}px;width:8px;height:8px;background:${prepColors[k]};border:0.5px solid #666;box-sizing:border-box;`);
    label(p, x + textDx, yc, 7);
  });
}
prepLegend(276, 13.3, 10, 9, 11, 62);
prepLegend(623, 13.3, 10, 9, 12, 62);
prepLegend(587, 256, 9.5, 8.8, 11, 61);
prepLegend(268, 252.7, 9, 9, 12, 62);

// C: blood matrix legend
label('Blood Matrix', 199, 252.7, 7);
const matrixKeys = [
  'width:6px;height:6px;border:1px solid #333;border-radius:50%;box-sizing:border-box;',
  'width:6px;height:6px;border:1px solid #333;box-sizing:border-box;',
  'width:6px;height:6px;background:#222;border-radius:50%;',
  'width:5.5px;height:5.5px;background:#222;',
  'width:4.5px;height:4.5px;background:#222;transform:rotate(45deg);'
];
pcaMatrices.forEach((m, k) => {
  const yc = 261.7 + 9 * k;
  const sz = parseFloat(matrixKeys[k].match(/width:([\d.]+)/)[1]);
  put(`left:${202.5 - sz / 2}px;top:${yc - sz / 2}px;` + matrixKeys[k]);
  label(m, 212, yc, 7);
});

// E: matrix legend
label('Matrix', 428, 538, 7);
matrices.forEach((m, k) => {
  const yc = 551 + 11.75 * k;
  put(`left:432px;top:${yc - 6}px;width:1px;height:12px;background:#8a8a8a;`);
  put(`left:428px;top:${yc - 4}px;width:9px;height:8px;background:${eMatColors[k]};border:0.5px solid #555;box-sizing:border-box;`);
  put(`left:428px;top:${yc - 0.5}px;width:9px;height:1px;background:#333;`);
  label(m, 443, yc, 6.5);
});

// F: set names
label(vennSets[0], 494, 522, 11.5, 'color:#111;');
label(vennSets[1], 668, 657, 11.5, 'color:#111;');
</script>
</body>
</html>
